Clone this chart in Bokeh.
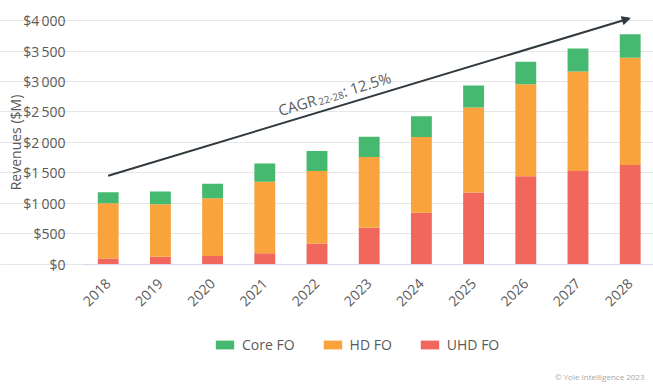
import math
from bokeh.plotting import figure
from bokeh.models import (ColumnDataSource, FixedTicker, Legend, LegendItem, Label,
                          Arrow, NormalHead, Range1d)
from bokeh.embed import file_html
from bokeh.resources import INLINE

years = [2018, 2019, 2020, 2021, 2022, 2023, 2024, 2025, 2026, 2027, 2028]
uhd_fo = [92, 120, 132, 175, 335, 594, 841, 1176, 1444, 1527, 1626]
hd_fo = [908, 863, 950, 1177, 1192, 1164, 1247, 1396, 1512, 1639, 1763]
core_fo = [180, 209, 237, 302, 330, 336, 341, 363, 368, 379, 387]
series_names = ["UHD FO", "HD FO", "Core FO"]
series_colors = ["#f2675d", "#f9a33c", "#44b96f"]
y_ticks = [0, 500, 1000, 1500, 2000, 2500, 3000, 3500, 4000]
y_tick_labels = ["$0", "$500", "$1\u2009000", "$1\u2009500", "$2\u2009000", "$2\u2009500",
                 "$3\u2009000", "$3\u2009500", "$4\u2009000"]
cagr_start = (2018, 1450)
cagr_end = (2028, 4040)
cagr_text = ("CAGR", "22-28", ": 12.5%")

FONT = "Open Sans"
TXT = "#5a5a5a"

# the frame covers the whole canvas; axes are pinned inside it
W, H = 653, 386
PLOT_LEFT = 82          # left edge of the plotting area (px)
FIRST_BAR_X = 107.7     # centre of first bar (px)
PX_YEAR = 52.2
PX_USD = 0.060825
ZERO_Y = 263.5
X0 = years[0] - FIRST_BAR_X / PX_YEAR
X1 = X0 + W / PX_YEAR
Y1 = ZERO_Y / PX_USD
Y0 = -(H - ZERO_Y) / PX_USD


def to_data(sx, sy):
    return X0 + sx / W * (X1 - X0), Y0 + (H - sy) / H * (Y1 - Y0)


x_left = to_data(PLOT_LEFT, 0)[0]

source = ColumnDataSource(dict(year=years, uhd=uhd_fo, hd=hd_fo, core=core_fo))

p = figure(width=W, height=H, output_backend="svg", toolbar_location=None,
           x_range=Range1d(X0, X1), y_range=Range1d(Y0, Y1),
           min_border_left=0, min_border_right=0, min_border_top=0, min_border_bottom=0)
p.outline_line_color = None
p.background_fill_color = "white"
p.border_fill_color = "white"

p.xgrid.grid_line_color = None
p.ygrid.grid_line_color = "#e6e6e6"
p.ygrid.grid_line_width = 1
p.ygrid.ticker = FixedTicker(ticks=y_ticks)
p.ygrid.bounds = (x_left, X1)

rs = p.vbar_stack(["uhd", "hd", "core"], x="year", width=0.4, source=source,
                  color=series_colors, line_color=None)

# axes
p.xaxis.fixed_location = 0
p.xaxis.bounds = (x_left, X1)
p.xaxis.ticker = FixedTicker(ticks=years)
p.xaxis.major_label_overrides = {y: str(y) for y in years}
p.xaxis.major_label_orientation = math.pi / 4
p.xaxis.major_label_text_font = FONT
p.xaxis.major_label_text_font_size = "14px"
p.xaxis.major_label_text_color = TXT
p.xaxis.major_label_standoff = 11
p.xaxis.major_tick_line_color = None
p.xaxis.minor_tick_line_color = None
p.xaxis.axis_line_color = "#d3dbe8"

p.yaxis.fixed_location = x_left
p.yaxis.bounds = (0, y_ticks[-1])
p.yaxis.ticker = FixedTicker(ticks=y_ticks)
p.yaxis.major_label_overrides = dict(zip(y_ticks, y_tick_labels))
p.yaxis.major_label_text_font = FONT
p.yaxis.major_label_text_font_size = "14px"
p.yaxis.major_label_text_color = TXT
p.yaxis.major_label_standoff = 11
p.yaxis.major_tick_line_color = None
p.yaxis.minor_tick_line_color = None
p.yaxis.axis_line_color = None

lx, ly = to_data(15, 142)
p.add_layout(Label(x=lx, y=ly, text="Revenues ($M)", angle=math.pi / 2, text_font=FONT,
                   text_font_size="14px", text_color=TXT, text_align="center",
                   text_baseline="middle"))

# legend
items = [LegendItem(label=series_names[2], renderers=[rs[2]]),
         LegendItem(label=series_names[1], renderers=[rs[1]]),
         LegendItem(label=series_names[0], renderers=[rs[0]])]
legend = Legend(items=items, orientation="horizontal", location=(213, 32),
                glyph_width=23, glyph_height=11, label_standoff=6, spacing=26,
                padding=0, margin=0, border_line_color=None, background_fill_alpha=0,
                label_text_font=FONT, label_text_font_size="14px", label_text_color=TXT)
p.add_layout(legend, "center")

# CAGR arrow
p.add_layout(Arrow(end=NormalHead(size=8, fill_color="#2f393e", line_color="#2f393e"),
                   x_start=cagr_start[0], y_start=cagr_start[1],
                   x_end=cagr_end[0], y_end=cagr_end[1],
                   line_color="#2f393e", line_width=2))

theta = math.atan2(157.4, 523.3)
ux, uy = math.cos(theta), -math.sin(theta)      # along baseline (screen)
vx, vy = math.sin(theta), math.cos(theta)       # perpendicular, downward (screen)
sx0, sy0 = 278, 110
pieces = [(cagr_text[0], 0, 0, "15px"), (cagr_text[1], 41, 3, "10px"), (cagr_text[2], 67, 0, "15px")]
for txt, d, off, fs in pieces:
    sx = sx0 + ux * d + vx * off
    sy = sy0 + uy * d + vy * off
    dx, dy = to_data(sx, sy)
    p.add_layout(Label(x=dx, y=dy, text=txt, angle=theta, text_font=FONT, text_font_size=fs,
                       text_color=TXT, text_align="left", text_baseline="alphabetic"))

# copyright
cx, cy = to_data(644, 376)
p.add_layout(Label(x=cx, y=cy, text="\u00a9 Yole Intelligence 2023", text_font=FONT,
                   text_font_size="8px", text_color="#a8a8a8", text_align="right",
                   text_baseline="middle"))

open("out.html", "w").write(file_html(p, INLINE))
